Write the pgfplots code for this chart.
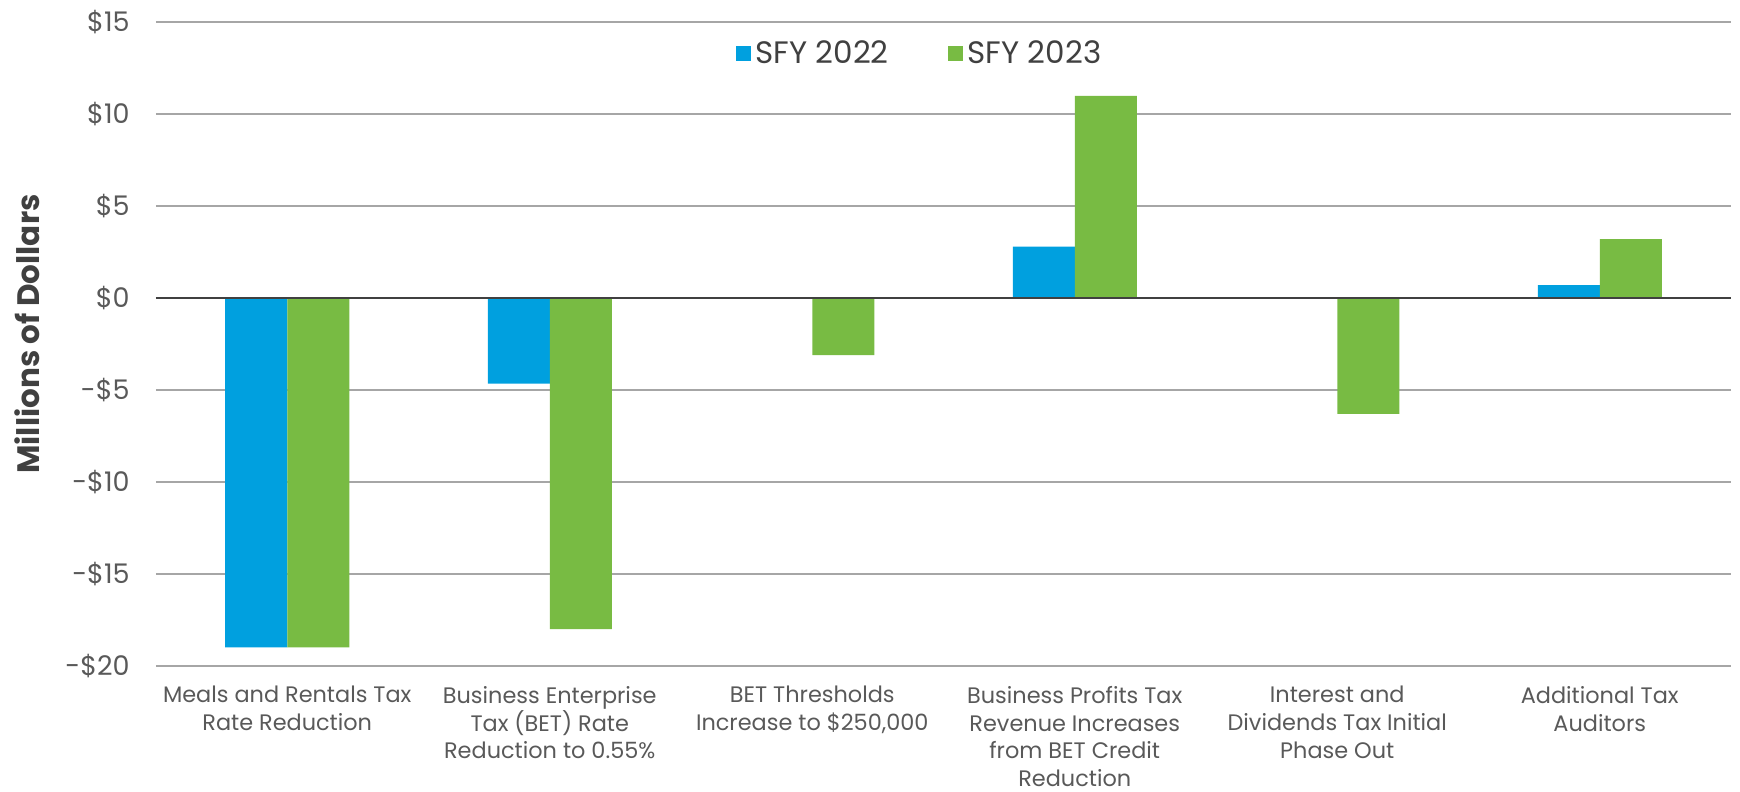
\documentclass[border=0pt]{standalone}
\usepackage{fontspec}
\setmainfont{Poppins}
\usepackage{pgfplots}
\pgfplotsset{compat=1.18}

\definecolor{fyblue}{HTML}{00A0DF}
\definecolor{fygreen}{HTML}{78BB43}
\definecolor{gridgray}{HTML}{A6A6A6}
\definecolor{labelgray}{HTML}{595959}
\definecolor{darkgray}{HTML}{404040}

\begin{document}
\begin{tikzpicture}
\begin{axis}[
    scale only axis,
    width=787.5pt,
    height=321.8pt,
    ybar=0pt,
    bar width=31pt,
    xmin=-0.5, xmax=5.5,
    ymin=-20, ymax=15,
    xtick={0,1,2,3,4,5},
    xticklabels={
        {Meals and Rentals Tax\\Rate Reduction},
        {Business Enterprise\\Tax (BET) Rate\\Reduction to 0.55\%},
        {BET Thresholds\\Increase to \$250,000},
        {Business Profits Tax\\Revenue Increases\\from BET Credit\\Reduction},
        {Interest and\\Dividends Tax Initial\\Phase Out},
        {Additional Tax\\Auditors}
    },
    ytick={-20,-15,-10,-5,0,5,10,15},
    yticklabels={-\$20,-\$15,-\$10,-\$5,\$0,\$5,\$10,\$15},
    axis line style={draw=none},
    major tick length=0pt,
    tick style={draw=none},
    ymajorgrids,
    grid style={gridgray, line width=0.75pt},
    xticklabel style={align=center, anchor=north, inner sep=0pt, yshift=-10pt,
        font=\fontsize{11.2}{13.9}\selectfont, text=labelgray},
    yticklabel style={anchor=east, inner sep=0pt, xshift=-13pt,
        font=\fontsize{13.5}{16}\selectfont, text=labelgray},
    ylabel={Millions of Dollars},
    ylabel style={at={(axis description cs:-0.0819,0.5155)}, anchor=center,
        font=\fontsize{15.5}{18}\selectfont\bfseries, text=darkgray},
    legend columns=2,
    legend style={at={(0.4857,0.952)}, anchor=center, draw=none, fill=none,
        font=\fontsize{15.5}{18}\selectfont, text=darkgray,
        nodes={inner xsep=2.5pt},
        /tikz/every even column/.append style={column sep=27pt}},
    legend image code/.code={\fill[#1] (0pt,-3.75pt) rectangle (7.5pt,3.75pt);},
]
\addplot[fill=fyblue, draw=none] coordinates {
    (0,-19.0) (1,-4.65) (2,0) (3,2.8) (4,0) (5,0.7)
};
\addlegendentry{SFY 2022}
\addplot[fill=fygreen, draw=none] coordinates {
    (0,-19.0) (1,-18.0) (2,-3.1) (3,11.0) (4,-6.3) (5,3.2)
};
\addlegendentry{SFY 2023}
\draw[darkgray, line width=1.3pt] (axis cs:-0.5,0) -- (axis cs:5.5,0);
\end{axis}
\pgfresetboundingbox
\path[use as bounding box] (-78pt,-63.1pt) rectangle (792pt,332.9pt);
\end{tikzpicture}
\end{document}
